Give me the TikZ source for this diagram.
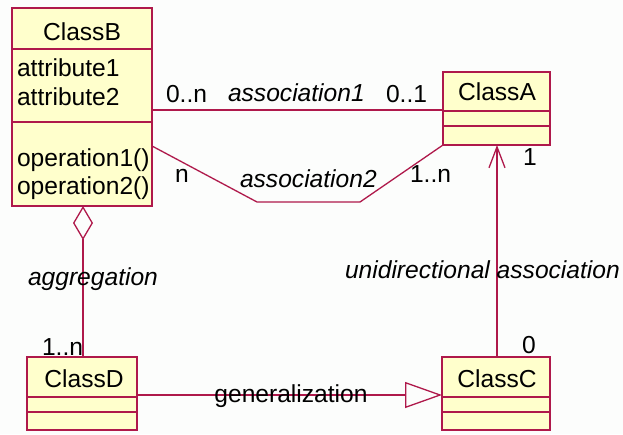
\documentclass[tikz,border=0pt]{standalone}
\usepackage{fontspec}
\setmainfont{Liberation Sans}
\usetikzlibrary{arrows.meta,calc}
\definecolor{umlline}{RGB}{175,25,75}
\definecolor{umlfill}{RGB}{255,255,204}
\definecolor{paper}{RGB}{252,253,252}

\begin{document}
\begin{tikzpicture}[x=1pt,y=-1pt,
  every node/.style={inner sep=0pt, outer sep=0pt, font=\fontsize{24.6}{28}\selectfont},
  classbox/.style={draw=umlline, fill=umlfill, line width=1.3pt, rectangle, anchor=north west},
  wire/.style={draw=umlline, line width=1.3pt},
  txt/.style={anchor=base west},
  ctxt/.style={anchor=base},
  role/.style={anchor=base west, font=\fontsize{24.6}{28}\selectfont\itshape},
]
% canvas
\fill[paper] (0,0) rectangle (623,434);
\useasboundingbox (0,0) rectangle (623,434);

% ---- classes ----
\node[classbox, minimum width=140pt, minimum height=198pt] (b) at (12,8) {};
\draw[wire] ($(b.north west)+(0,41)$) -- ($(b.north east)+(0,41)$);
\draw[wire] ($(b.north west)+(0,114)$) -- ($(b.north east)+(0,114)$);
\node[ctxt] (bname) at (82,40) {ClassB};
\node[txt] (batt1) at (17,76) {attribute1};
\node[txt] (batt2) at (17,105) {attribute2};
\node[txt] (bop1) at (17,166) {operation1()};
\node[txt] (bop2) at (17,194) {operation2()};

\node[classbox, minimum width=107pt, minimum height=73pt] (a) at (443,72) {};
\draw[wire] ($(a.north west)+(0,39)$) -- ($(a.north east)+(0,39)$);
\draw[wire] ($(a.north west)+(0,54)$) -- ($(a.north east)+(0,54)$);
\node[ctxt] (aname) at (497,100) {ClassA};

\node[classbox, minimum width=110pt, minimum height=73pt] (d) at (27,357) {};
\draw[wire] ($(d.north west)+(0,40)$) -- ($(d.north east)+(0,40)$);
\draw[wire] ($(d.north west)+(0,55)$) -- ($(d.north east)+(0,55)$);
\node[ctxt] (dname) at (84,387) {ClassD};

\node[classbox, minimum width=108pt, minimum height=73pt] (c) at (442,357) {};
\draw[wire] ($(c.north west)+(0,40)$) -- ($(c.north east)+(0,40)$);
\draw[wire] ($(c.north west)+(0,55)$) -- ($(c.north east)+(0,55)$);
\node[ctxt] (cname) at (497,387) {ClassC};

% ---- association1 ----
\draw[wire] ($(b.north east)+(0,102)$) -- ($(a.north west)+(0,38)$);
\node[txt] (m1) at (166,102) {0..n};
\node[role] (as1) at (228,101) {association1};
\node[txt] (m2) at (386,102) {0..1};

% ---- association2 ----
\coordinate (k1) at (257,202);
\coordinate (k2) at (360,202);
\draw[wire] ($(b.north east)+(0,138)$) -- (k1) -- (k2) -- (a.south west);
\node[txt] (m3) at (175,182) {n};
\node[role] (as2) at (240,187) {association2};
\node[txt] (m4) at (410,182) {1..n};

% ---- aggregation ----
\draw[wire, {Diamond[open, fill=paper, length=34pt, width=20pt]}-] (b.south -| 83,0) -- (d.north -| 83,0);
\node[role] (ag) at (28,285) {aggregation};
\node[txt] (m5) at (42,355) {1..n};

% ---- generalization ----
\draw[wire, -{Triangle[open, fill=paper, length=37pt, width=26pt]}] ($(d.north east)+(0,38)$) -- ($(c.north west)+(0,38)$);
\node[ctxt] (gen) at (291,402) {generalization};

% ---- unidirectional association ----
\draw[wire, -{Straight Barb[length=21pt, width=16pt]}] (c.north -| 497,0) -- (a.south -| 497,0);
\node[role] (ua) at (345,278) {unidirectional association};
\node[txt] (m6) at (523,165) {1};
\node[txt] (m7) at (522,353) {0};
\end{tikzpicture}
\end{document}
